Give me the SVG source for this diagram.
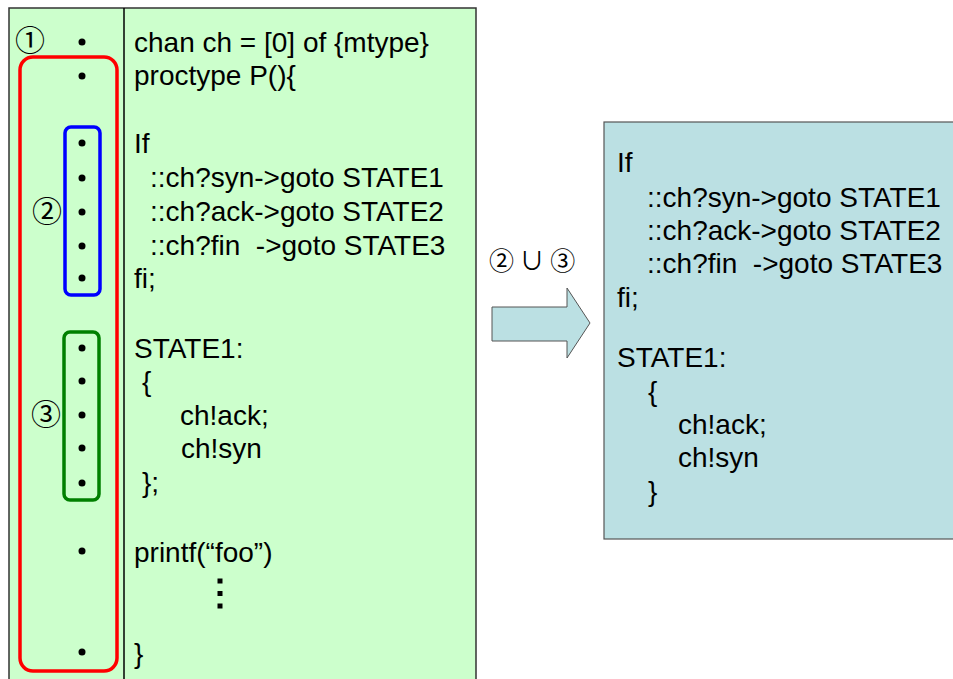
<svg xmlns="http://www.w3.org/2000/svg" width="953" height="679" viewBox="0 0 953 679">
<style>
.code{font-family:"Liberation Sans",Arial,sans-serif;font-size:28px;fill:#000}
.num{font-family:"Noto Sans CJK JP","DejaVu Sans",sans-serif;font-size:30px;fill:#000;text-anchor:middle}
.lbl{font-family:"Noto Sans CJK JP","DejaVu Sans",sans-serif;font-size:25px;fill:#000}
.dot{fill:#000}
</style>
<rect width="953" height="679" fill="#fff"/>
<g id="left-panel">
<rect x="9" y="8" width="467" height="690" fill="#CCFFCC" stroke="#333" stroke-width="1.5"/>
<line x1="124" y1="8" x2="124" y2="698" stroke="#000" stroke-width="1.5"/>
</g>
<g id="group1">
<rect x="20" y="57" width="97" height="614" rx="13" fill="none" stroke="#FF0000" stroke-width="3.5"/>
<text class="num" x="30" y="51">①</text>
</g>
<g id="group2">
<rect x="65" y="127" width="35" height="168" rx="6" fill="none" stroke="#0000FF" stroke-width="3.5"/>
<text class="num" x="47" y="222">②</text>
</g>
<g id="group3">
<rect x="64" y="332" width="35" height="168" rx="6" fill="none" stroke="#008000" stroke-width="3.5"/>
<text class="num" x="46" y="425">③</text>
</g>
<g id="dots">
<circle class="dot" cx="82" cy="42" r="3.5"/>
<circle class="dot" cx="82" cy="76" r="3.5"/>
<circle class="dot" cx="82" cy="143" r="3.5"/>
<circle class="dot" cx="82" cy="178" r="3.5"/>
<circle class="dot" cx="82" cy="212" r="3.5"/>
<circle class="dot" cx="82" cy="246" r="3.5"/>
<circle class="dot" cx="82" cy="278" r="3.5"/>
<circle class="dot" cx="82" cy="348" r="3.5"/>
<circle class="dot" cx="82" cy="381" r="3.5"/>
<circle class="dot" cx="82" cy="415" r="3.5"/>
<circle class="dot" cx="82" cy="448" r="3.5"/>
<circle class="dot" cx="82" cy="483" r="3.5"/>
<circle class="dot" cx="82" cy="551" r="3.5"/>
<circle class="dot" cx="82" cy="652" r="3.5"/>
</g>
<g id="left-code">
<text class="code" x="134" y="52">chan ch = [0] of {mtype}</text>
<text class="code" x="134" y="85">proctype P(){</text>
<text class="code" x="134" y="153">If</text>
<text class="code" x="150" y="187">::ch?syn-&gt;goto STATE1</text>
<text class="code" x="150" y="221">::ch?ack-&gt;goto STATE2</text>
<text class="code" x="150" y="255" xml:space="preserve">::ch?fin  -&gt;goto STATE3</text>
<text class="code" x="134" y="288">fi;</text>
<text class="code" x="134" y="358">STATE1:</text>
<text class="code" x="142" y="391">{</text>
<text class="code" x="180" y="425">ch!ack;</text>
<text class="code" x="181" y="458">ch!syn</text>
<text class="code" x="142" y="492">};</text>
<text class="code" x="134" y="562">printf(“foo”)</text>
<text class="code" x="134" y="663">}</text>
<rect x="217.5" y="578.5" width="5" height="5" fill="#000"/>
<rect x="217.5" y="591" width="5" height="5" fill="#000"/>
<rect x="217.5" y="603.5" width="5" height="5" fill="#000"/>
</g>
<g id="connectors">
<polygon points="492,307 567,307 567,288 590,323 567,358 567,341 492,341" fill="#BBE0E3" stroke="#555" stroke-width="1"/>
<text class="lbl" x="489" y="270">② ∪ ③</text>
</g>
<g id="right-panel">
<rect x="604" y="122" width="360" height="417" fill="#BBE0E3" stroke="#555" stroke-width="1.2"/>
<text class="code" x="617" y="172">If</text>
<text class="code" x="647" y="207">::ch?syn-&gt;goto STATE1</text>
<text class="code" x="647" y="240">::ch?ack-&gt;goto STATE2</text>
<text class="code" x="647" y="273" xml:space="preserve">::ch?fin  -&gt;goto STATE3</text>
<text class="code" x="617" y="307">fi;</text>
<text class="code" x="617" y="367">STATE1:</text>
<text class="code" x="648" y="401">{</text>
<text class="code" x="678" y="434">ch!ack;</text>
<text class="code" x="678" y="467">ch!syn</text>
<text class="code" x="648" y="501">}</text>
</g>
</svg>
